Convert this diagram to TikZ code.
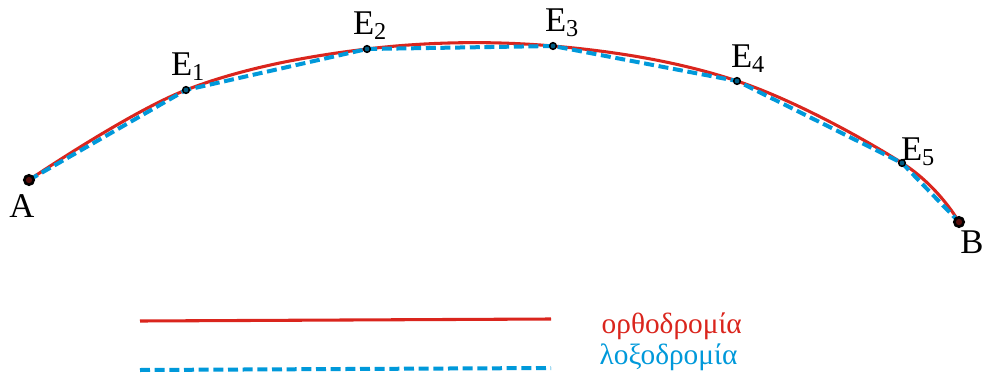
\documentclass[tikz,border=0pt]{standalone}
\usepackage{fontspec}
\setmainfont{Liberation Serif}
\definecolor{orthored}{RGB}{218,37,29}
\definecolor{loxoblue}{RGB}{0,153,218}
\tikzset{
  ortho/.style={orthored, line width=2.3pt},
  loxo/.style={loxoblue, line width=3pt, dash pattern=on 7.5pt off 3.5pt},
  waypt/.style={circle, draw=black, fill=loxoblue!60!black, line width=1.1pt, inner sep=0pt, minimum size=5pt},
  endpt/.style={circle, draw=black, fill=orthored!40!black, line width=2pt, inner sep=0pt, minimum size=7pt},
  ptlabel/.style={font=\fontsize{26}{30}\selectfont},
  leglabel/.style={font=\fontsize{22}{26}\selectfont, anchor=west}
}
\begin{document}
\begin{tikzpicture}[x=0.75pt, y=-0.75pt]
    \useasboundingbox (0,0) rectangle (983,379);

    % Punkte
    \coordinate (A) at (29,180);
    \coordinate (E1) at (186,90);
    \coordinate (E2) at (367,49);
    \coordinate (E3) at (553,46);
    \coordinate (E4) at (737,81);
    \coordinate (E5) at (902,163);
    \coordinate (B) at (959,222);

    % Orthodromie
    \draw[ortho] plot[smooth, tension=0.6] coordinates {(A) (E1) (E2) (E3) (E4) (E5) (B)};

    % Loxodromie
    \draw[loxo] (A) -- (E1) -- (E2) -- (E3) -- (E4) -- (E5) -- (B);

    % Markierungen
    \node[endpt] (Am) at (A) {};
    \node[endpt] (Bm) at (B) {};
    \foreach \p in {E1,E2,E3,E4,E5}
        \node[waypt] (\p m) at (\p) {};

    % Beschriftungen
    \node[ptlabel] (lA) at (22,206) {A};
    \node[ptlabel] (lB) at (972,242) {B};
    \node[ptlabel] (lE1) at (188,67) {E\textsubscript{1}};
    \node[ptlabel] (lE2) at (370,26) {E\textsubscript{2}};
    \node[ptlabel] (lE3) at (562,23) {E\textsubscript{3}};
    \node[ptlabel] (lE4) at (748,59) {E\textsubscript{4}};
    \node[ptlabel] (lE5) at (918,152) {E\textsubscript{5}};

    % Legende
    \coordinate (or1) at (140,321);
    \coordinate (or2) at (551,319);
    \coordinate (lo1) at (140,370);
    \coordinate (lo2) at (551,368);
    \draw[ortho] (or1) -- (or2);
    \draw[loxo] (lo1) -- (lo2);
    \node[leglabel, orthored] (legor) at (597,326) {ορθοδρομία};
    \node[leglabel, loxoblue] (leglo) at (595,357) {λοξοδρομία};
\end{tikzpicture}
\end{document}
